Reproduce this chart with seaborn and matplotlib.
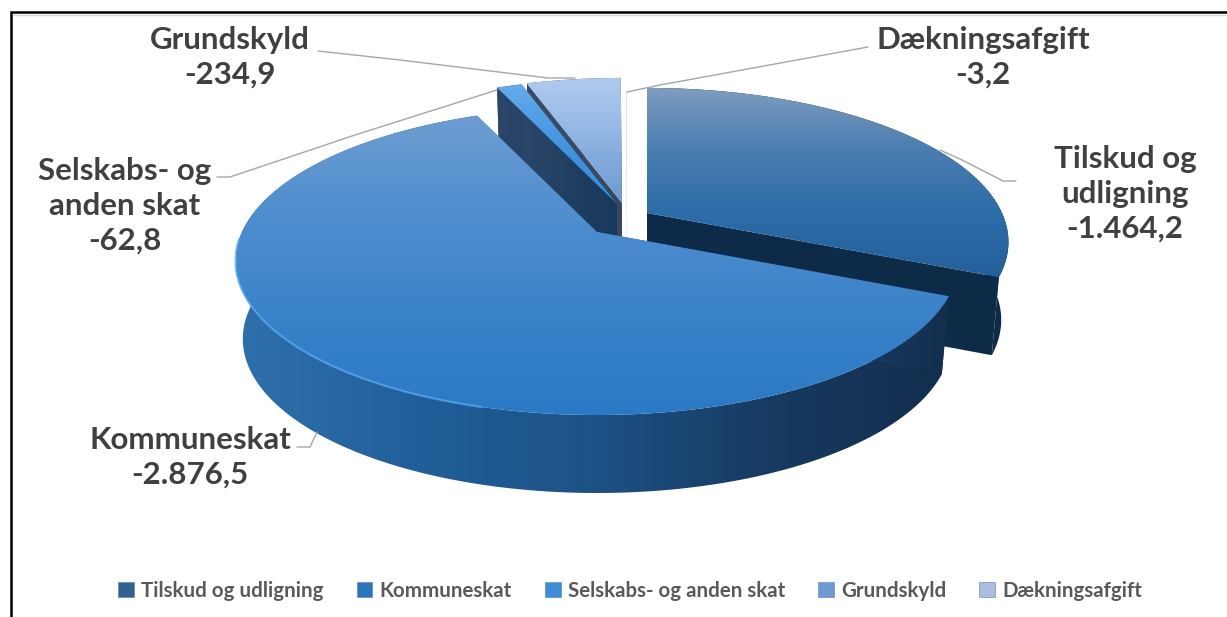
import numpy as np
import matplotlib
matplotlib.use("Agg")
import matplotlib.pyplot as plt
from matplotlib.patches import Polygon, Patch
import seaborn as sns

# ---- data ----
categories = ["Tilskud og udligning", "Kommuneskat", "Selskabs- og anden skat", "Grundskyld", "Dækningsafgift"]
label_names = ["Tilskud og\nudligning", "Kommuneskat", "Selskabs- og\nanden skat", "Grundskyld", "Dækningsafgift"]
values = [-1464.2, -2876.5, -62.8, -234.9, -3.2]

sns.set_theme(style="white")
plt.rcParams["font.family"] = ["Lato", "DejaVu Sans"]

# ---- layout / style ----
R, RY, PERSP = 355.0, 148.6, 0.188
DEPTH, BOTTOM_X = 78.0, 0.98
apexes = [(647, 213), (597, 232), (617, 204), (622, 203), (627, 217)]
top_ramps = [
    ["#7F9DC0", "#4A7DB0", "#2C6CA8", "#24609A"],
    ["#6E9DD1", "#4F8ECF", "#3A82C9", "#2A79C5"],
    ["#66ABEB", "#4E9CE4", "#3A90DE", "#3A90DE"],
    ["#B0CBEE", "#9ABCE8", "#82A9DC", "#6E99CE"],
    ["#D5E2F2", "#D5E2F2", "#D5E2F2", "#D5E2F2"],
]
wall_ramps = [
    ["#0E2C4A", "#0D2A47"],
    ["#2F70AC", "#215F9A", "#1D5286", "#173A60", "#132E4E"],
    ["#2C4668", "#16395C"],
    ["#3C4C68", "#38475F"],
    ["#E6EDF6", "#E6EDF6"],
]
legend_colors = ["#32618F", "#2C74B8", "#3C8CD8", "#6C9BD0", "#A8BEDC"]
label_xy = [(1125, 194), (190, 457), (125, 206), (230, 57), (983, 57)]
leaders = [
    [(940, 150), (962, 160), (1003, 181), (1016, 181)],
    [(297, 447), (310, 447), (317, 432)],
    [(217, 177), (230, 177), (355, 135), (497, 90)],
    [(318, 51), (400, 60), (548, 78), (575, 78)],
    [(627, 92), (660, 85), (868, 47)],
]

fig = plt.figure(figsize=(12.27, 6.17), dpi=100)
ax = fig.add_axes([0, 0, 1, 1])
ax.set_xlim(0, 1227)
ax.set_ylim(617, 0)
ax.axis("off")


def project(apex, theta):
    u, v = np.sin(theta), np.cos(theta)
    s = 1 / (1 + PERSP * v)
    return apex[0] + R * u * s, apex[1] - RY * v * s


def grad_fill(points, ramp, axis):
    points = np.asarray(points)
    cmap = sns.blend_palette(ramp, n_colors=256, as_cmap=True)
    grad = np.linspace(0, 1, 256)
    grad = grad[None, :] if axis == 0 else grad[:, None]
    x0, x1 = points[:, 0].min(), points[:, 0].max()
    y0, y1 = points[:, 1].min(), points[:, 1].max()
    im = ax.imshow(grad, cmap=cmap, vmin=0, vmax=1, aspect="auto",
                   extent=(x0, x1, y1, y0), origin="upper", interpolation="bilinear")
    patch = Polygon(points, closed=True, transform=ax.transData, fc="none", ec="none")
    ax.add_patch(patch)
    im.set_clip_path(patch)


magnitudes = np.abs(values)
edges = np.concatenate([[0], np.cumsum(magnitudes)]) / magnitudes.sum() * 2 * np.pi
slices = {}
for i in range(len(values)):
    t = np.linspace(edges[i], edges[i + 1], max(3, int((edges[i + 1] - edges[i]) * 90)))
    xa, ya = project(apexes[i], t)
    slices[i] = (t, xa, ya)


def lower(apex, xs, ys):
    return apex[0] + (np.asarray(xs) - apex[0]) * BOTTOM_X, np.asarray(ys) + DEPTH


for i in [4, 3, 2, 0, 1]:
    t, xa, ya = slices[i]
    a = apexes[i]
    xb, yb = lower(a, xa, ya)
    strip = np.column_stack([np.r_[xa, xb[::-1]], np.r_[ya, yb[::-1]]])
    grad_fill(strip, wall_ramps[i], 0)
    for j in (0, -1):
        ab = lower(a, [a[0]], [a[1]])
        quad = [a, (xa[j], ya[j]), (xb[j], yb[j]), (ab[0][0], ab[1][0])]
        grad_fill(quad, wall_ramps[i], 0)
    top = np.column_stack([np.r_[a[0], xa], np.r_[a[1], ya]])
    grad_fill(top, top_ramps[i], 1)

# bright rim along the near edge of the big slice
t, xa, ya = slices[1]
rim = (t > np.radians(195)) & (t < np.radians(268))
ax.plot(xa[rim], ya[rim], color="#55A6F2", lw=1.6, alpha=0.7, solid_capstyle="round")

ax.set_xlim(0, 1227)
ax.set_ylim(617, 0)

for pts in leaders:
    pts = np.array(pts)
    ax.plot(pts[:, 0], pts[:, 1], color="#A6A6A6", lw=1.0)


def danish(v):
    return f"{v:,.1f}".replace(",", "X").replace(".", ",").replace("X", ".")


for name, v, (x, y) in zip(label_names, values, label_xy):
    ax.text(x, y, f"{name}\n{danish(v)}", ha="center", va="center", fontsize=22.5,
            fontweight="bold", color="#404040", linespacing=1.3)

ax.plot([11, 11, 1227], [617, 12, 12], color="black", lw=1.8, solid_joinstyle="miter")
ax.plot([13, 1227], [14.5, 14.5], color="#D9D9D9", lw=1.0)

handles = [Patch(fc=c, ec="#5A7FA8", lw=0.4) for c in legend_colors]
ax.legend(handles, categories, ncol=5, loc="center", bbox_to_anchor=(630 / 1227, 1 - 591 / 617),
          frameon=False, labelcolor="#595959", handlelength=0.77, handleheight=0.75,
          handletextpad=0.35, columnspacing=1.6, prop={"family": "Lato", "weight": "bold", "size": 14.8})

fig.savefig("out.png", dpi=100, facecolor="white")
